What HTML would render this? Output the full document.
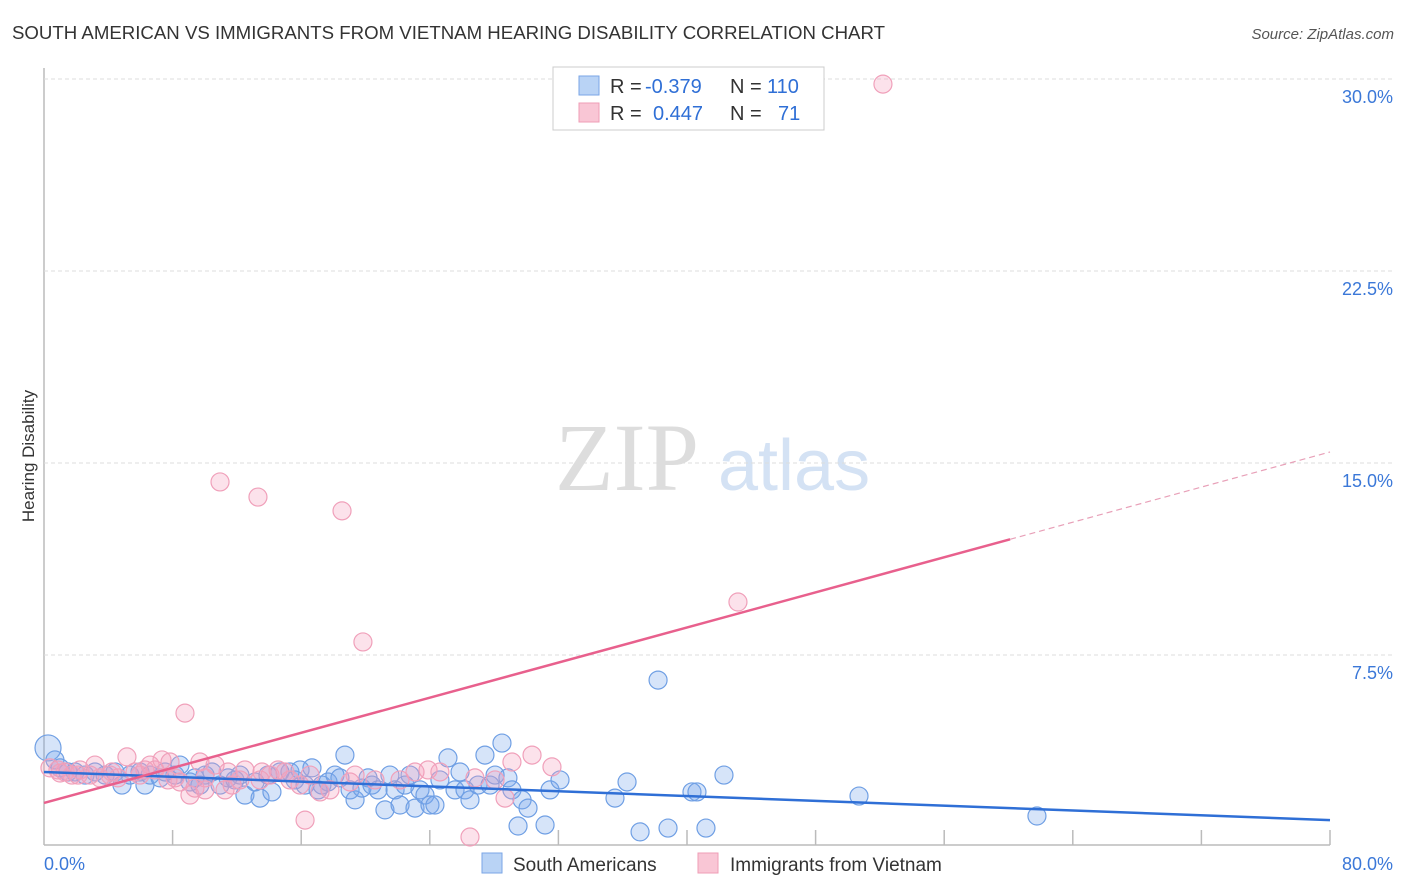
<!DOCTYPE html>
<html><head><meta charset="utf-8"><style>
body{margin:0;background:#fff;font-family:"Liberation Sans",sans-serif;}
svg{display:block}
</style></head><body>
<svg id="c" width="1406" height="892">
<text x="12" y="39" font-size="18" fill="#333" textLength="873" lengthAdjust="spacingAndGlyphs">SOUTH AMERICAN VS IMMIGRANTS FROM VIETNAM HEARING DISABILITY CORRELATION CHART</text>
<text x="1394" y="39" font-size="15" fill="#555" font-style="italic" text-anchor="end">Source: ZipAtlas.com</text>
<text x="34" y="456" font-size="17" fill="#333" text-anchor="middle" transform="rotate(-90 34 456)">Hearing Disability</text>
<text x="555" y="490" font-size="96" fill="#ddd" font-family="Liberation Serif,serif">ZIP</text>
<text x="718" y="490" font-size="72" fill="#d4e2f4">atlas</text>
<g id="grid"></g><g id="pts"></g><g id="lines"></g>
<g>
<rect x="553" y="67" width="271" height="63" fill="#fff" stroke="#ccc"/>
<rect x="579" y="76" width="20" height="19" fill="#b9d3f5" stroke="#7aa6e6"/>
<rect x="579" y="103" width="20" height="19" fill="#f9c6d5" stroke="#ef9db6"/>
<text x="610" y="93" font-size="20" fill="#333">R =</text>
<text x="645" y="93" font-size="20" fill="#2f6fd6">-0.379</text>
<text x="730" y="93" font-size="20" fill="#333">N =</text>
<text x="767" y="93" font-size="20" fill="#2f6fd6">110</text>
<text x="610" y="120" font-size="20" fill="#333">R =</text>
<text x="653" y="120" font-size="20" fill="#2f6fd6">0.447</text>
<text x="730" y="120" font-size="20" fill="#333">N =</text>
<text x="778" y="120" font-size="20" fill="#2f6fd6">71</text>
</g>
<g>
<rect x="482" y="853" width="20" height="20" fill="#b9d3f5" stroke="#7aa6e6"/>
<text x="513" y="871" font-size="19" fill="#333">South Americans</text>
<rect x="698" y="853" width="20" height="20" fill="#f9c6d5" stroke="#ef9db6"/>
<text x="730" y="871" font-size="19" fill="#333">Immigrants from Vietnam</text>
</g>
</svg>
<script>
const yTicks=[7.5,15,22.5,30];
const yTickLabels=["7.5%","15.0%","22.5%","30.0%"];
const xTicks=[8,16,24,32,40,48,56,64,72,80];
const blueX=[0.25,0.68,1.0,1.49,1.93,2.55,3.17,3.8,4.42,4.85,5.35,5.97,6.28,6.6,7.22,7.53,8.15,8.46,9.08,9.39,9.7,10.02,10.45,10.95,11.45,11.88,12.19,12.5,13.13,13.44,13.93,14.18,14.68,15.3,15.61,15.93,16.24,16.67,17.05,17.29,17.67,18.1,18.41,18.72,19.04,19.35,19.78,20.16,20.4,20.78,21.21,21.52,21.84,22.15,22.46,22.77,23.08,23.39,23.7,24.01,24.32,24.63,25.13,25.57,25.88,26.19,26.5,27.0,27.43,27.75,28.06,28.49,28.86,29.11,29.49,29.74,30.11,31.17,31.48,32.1,35.52,36.27,37.08,38.2,38.82,40.31,40.62,41.18,42.3,50.7,61.77];
const blueY=[3.87,3.4,3.09,2.93,2.93,2.81,2.93,2.81,2.93,2.42,2.81,2.93,2.42,2.81,2.7,2.93,2.81,3.2,2.54,2.7,2.42,2.81,2.93,2.42,2.7,2.62,2.81,2.03,2.54,1.91,2.81,2.15,2.93,2.93,2.62,3.01,2.42,3.09,2.23,2.42,2.54,2.81,2.7,3.59,2.23,1.84,2.3,2.7,2.42,2.23,1.45,2.81,2.23,1.64,2.42,2.81,1.52,2.23,2.03,1.64,1.64,2.62,3.48,2.23,2.93,2.23,1.84,2.42,3.59,2.42,2.81,4.06,2.7,2.23,0.82,1.84,1.52,0.86,2.23,2.62,1.91,2.54,0.59,6.52,0.74,2.15,2.15,0.74,2.81,1.99,1.21];
const pinkX=[0.37,0.87,1.31,1.74,2.24,2.86,3.17,3.48,4.11,4.6,5.16,5.66,6.28,6.6,6.9,7.34,7.84,8.15,8.46,8.77,9.08,9.39,9.7,10.02,10.64,10.95,11.26,11.7,12.19,13.31,13.56,14.06,14.56,14.99,16.24,16.55,17.17,17.79,18.54,19.04,19.35,19.84,20.59,22.15,23.08,23.89,24.63,26.5,26.81,28.06,28.68,29.11,30.36,31.6,43.17,52.19,1.0,2.12,4.23,5.97,7.71,11.45,12.5,15.3,10.02,13.44,15.93];
const pinkY=[3.09,3.01,2.93,2.81,3.01,2.81,3.2,2.7,2.81,2.7,3.52,2.93,3.01,3.2,3.01,3.4,3.32,2.7,2.54,5.23,2.03,2.3,3.32,2.7,3.2,14.26,2.23,2.42,2.62,13.67,2.93,2.81,3.01,2.93,1.05,2.81,2.15,2.23,13.13,2.54,2.81,8.01,2.62,2.62,2.93,3.01,2.93,0.39,2.7,2.62,1.91,3.32,3.59,3.13,9.57,29.8,2.89,2.81,2.93,2.81,2.62,2.93,3.01,2.62,2.23,2.62,2.42];
const blueTrend=[2.93,1.05];
const pinkTrend=[1.72,15.43];
const sx=v=>44+v*16.075, sy=v=>847-v*25.6;
const NS="http://www.w3.org/2000/svg";
function mk(t,a,p){const e=document.createElementNS(NS,t);for(const k in a)e.setAttribute(k,a[k]);p.appendChild(e);return e;}
const G=document.getElementById('grid');
const ax=mk('line',{x1:44,y1:68,x2:44,y2:845,stroke:'#bbb','stroke-width':1.5},G);


const bx=mk('line',{x1:44,y1:845,x2:1330,y2:845,stroke:'#bbb','stroke-width':1.5},G);


yTicks.forEach((v,i)=>{
 const l=mk('line',{x1:44,y1:sy(v),x2:1392,y2:sy(v),stroke:'#ddd','stroke-dasharray':'4 3'},G);
 
 
 const t=mk('text',{x:1393,y:sy(v)+24,'font-size':18,fill:'#3b78d8','text-anchor':'end'},G);
 t.textContent=yTickLabels[i];
 
 
});
xTicks.forEach(v=>{
 const l=mk('line',{x1:sx(v),y1:830,x2:sx(v),y2:845,stroke:'#bbb','stroke-width':1.5},G);
 
 
});
const x0=mk('text',{x:44,y:870,'font-size':18,fill:'#3b78d8'},G);x0.textContent='0.0%';


const x1=mk('text',{x:1393,y:870,'font-size':18,fill:'#3b78d8','text-anchor':'end'},G);x1.textContent='80.0%';


const P=document.getElementById('pts');
blueX.forEach((v,i)=>{
 const c=mk('circle',{cx:sx(v),cy:sy(blueY[i]),r:i==0?13:9,fill:'rgba(120,165,235,0.3)',stroke:'#6f9fe4','stroke-width':1.2},P);
 
 
});
pinkX.forEach((v,i)=>{
 const c=mk('circle',{cx:sx(v),cy:sy(pinkY[i]),r:9,fill:'rgba(245,160,190,0.3)',stroke:'#f0a0ba','stroke-width':1.2},P);
 
 
});
const L=document.getElementById('lines');
const bl=mk('line',{x1:sx(0),y1:sy(blueTrend[0]),x2:sx(80),y2:sy(blueTrend[1]),stroke:'#2f6fd6','stroke-width':2.5},L);


const xe=60.1, ye=pinkTrend[0]+(pinkTrend[1]-pinkTrend[0])*xe/80;
const pl=mk('line',{x1:sx(0),y1:sy(pinkTrend[0]),x2:sx(xe),y2:sy(ye),stroke:'#e8608d','stroke-width':2.5},L);


const pd=mk('line',{x1:sx(xe),y1:sy(ye),x2:sx(80),y2:sy(pinkTrend[1]),stroke:'#e8a0b8','stroke-width':1.2,'stroke-dasharray':'6 4'},L);


</script>
</body></html>
